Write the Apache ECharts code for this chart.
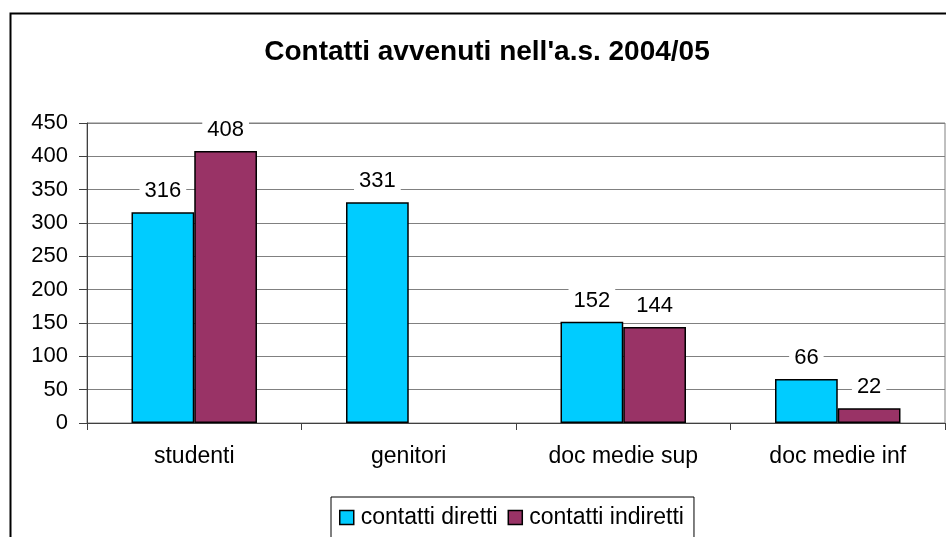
<!DOCTYPE html>
<html><head><meta charset="utf-8">
<script src="https://cdn.jsdelivr.net/npm/echarts@6/dist/echarts.min.js"></script>
<style>html,body{margin:0;padding:0;background:#fff}#c{width:946px;height:537px}</style>
</head><body><div id="c"></div>
<script>
const categories = ['studenti', 'genitori', 'doc medie sup', 'doc medie inf'];
const diretti = [316, 331, 152, 66];
const indiretti = [408, 0, 144, 22];
const seriesNames = ['contatti diretti', 'contatti indiretti'];
const titleText = "Contatti avvenuti nell'a.s. 2004/05";

const font = 'Liberation Sans, Arial, sans-serif';
function mk(arr) {
  return arr.map(v => v === 0 ? { value: v, label: { show: false }, itemStyle: { borderWidth: 0 } } : v);
}
const labelCfg = {
  show: true, position: 'top', distance: 9,
  color: '#000', fontFamily: font, fontSize: 22,
  backgroundColor: '#fff', padding: [1, 5]
};
const chart = echarts.init(document.getElementById('c'), null, { renderer: 'canvas' });
chart.setOption({
  animation: false,
  backgroundColor: '#fff',
  title: {
    text: titleText, left: 482, top: 33, textAlign: 'center',
    textStyle: { fontFamily: font, fontSize: 28, fontWeight: 'bold', color: '#000' }
  },
  graphic: [{
    type: 'rect', shape: { x: 10.5, y: 13.5, width: 960, height: 560 },
    style: { fill: 'none', stroke: '#000', lineWidth: 2 }, z: -1
  }],
  grid: {
    left: 87, top: 123, right: 1, height: 300,
    show: true, borderColor: '#808080', borderWidth: 1, backgroundColor: 'transparent'
  },
  legend: {
    data: seriesNames, left: 331, top: 497,
    itemWidth: 14, itemHeight: 14, itemGap: 10,
    borderColor: '#000', borderWidth: 1, padding: [9, 10, 20, 8],
    icon: 'rect',
    itemStyle: { borderColor: '#000', borderWidth: 1.5 },
    textStyle: { fontFamily: font, fontSize: 23, color: '#000', padding: [0, 0, 0, 2] }
  },
  xAxis: {
    type: 'category', data: categories,
    axisLine: { lineStyle: { color: '#404040', width: 1 } },
    axisTick: { show: true, length: 7, lineStyle: { color: '#404040' } },
    axisLabel: { fontFamily: font, fontSize: 23, color: '#000', margin: 22 }
  },
  yAxis: {
    type: 'value', min: 0, max: 450, interval: 50,
    axisLine: { show: true, lineStyle: { color: '#404040', width: 1 } },
    axisTick: { show: true, length: 8, lineStyle: { color: '#404040' } },
    axisLabel: { fontFamily: font, fontSize: 22, color: '#000', margin: 19 },
    splitLine: { lineStyle: { color: '#808080', width: 1 } }
  },
  series: [
    {
      name: seriesNames[0], type: 'bar', data: mk(diretti),
      barGap: '0%', barCategoryGap: '41.5%',
      itemStyle: { color: '#00CCFF', borderColor: '#000', borderWidth: 1.5 },
      label: labelCfg
    },
    {
      name: seriesNames[1], type: 'bar', data: mk(indiretti),
      itemStyle: { color: '#993366', borderColor: '#000', borderWidth: 1.5 },
      label: labelCfg
    }
  ]
});
</script></body></html>
